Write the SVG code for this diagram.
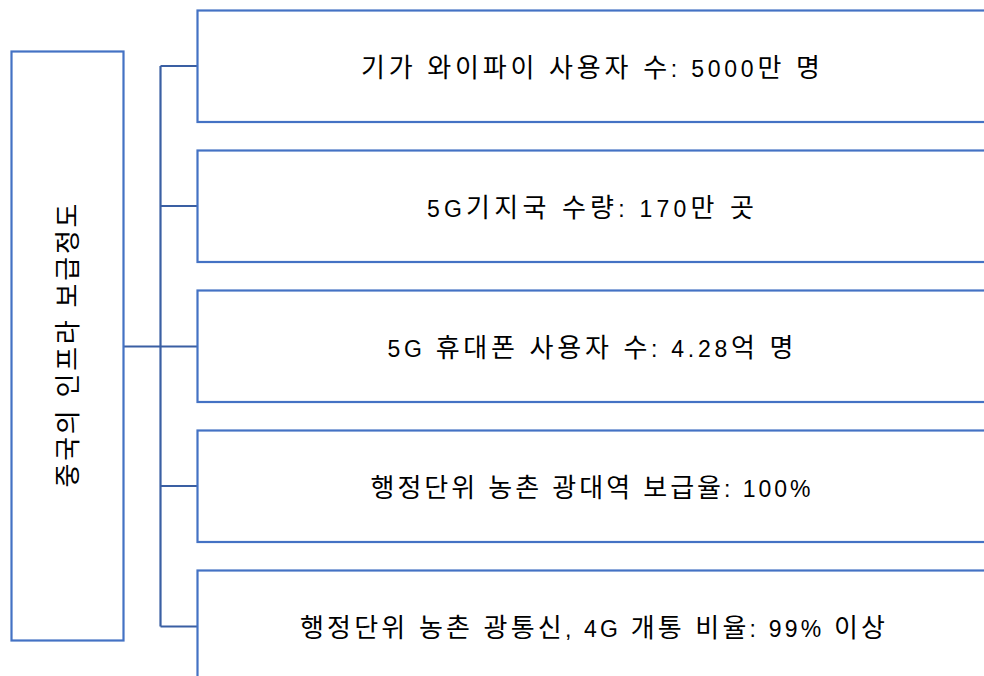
<svg xmlns="http://www.w3.org/2000/svg" width="984" height="676" viewBox="0 0 984 676">
<style>
.box{fill:#fff;stroke:#4472C4;stroke-width:2.2}
.con{fill:none;stroke:#3A5FA3;stroke-width:2.2}
.t{font-family:"Liberation Sans","Noto Sans CJK KR",sans-serif;font-size:23px;fill:#000;text-anchor:middle}
.k{font-size:26px}
</style>
<rect width="984" height="676" fill="#fff"/>
<g id="connectors">
<path class="con" d="M123.5 346.5H160.5M160.5 66H197.5M160.5 206H197.5M160.5 346.5H197.5M160.5 486H197.5M160.5 626.5H197.5M160.5 66V626.5"/>
</g>
<g id="root">
<rect class="box" x="11.5" y="51.5" width="112" height="589"/>
<text class="t k" transform="translate(77 345.5) rotate(-90)" textLength="284" lengthAdjust="spacing">중국의 인프라 보급정도</text>
</g>
<g id="n1">
<rect class="box" x="197.5" y="10.5" width="800" height="111.5"/>
<text class="t" x="590.5" y="76.5" textLength="459" lengthAdjust="spacing"><tspan class="k">기가 와이파이 사용자 수</tspan>: 5000<tspan class="k">만 명</tspan></text>
</g>
<g id="n2">
<rect class="box" x="197.5" y="150.5" width="800" height="111.5"/>
<text class="t" x="590.5" y="216.5" textLength="327" lengthAdjust="spacing">5G<tspan class="k">기지국 수량</tspan>: 170<tspan class="k">만 곳</tspan></text>
</g>
<g id="n3">
<rect class="box" x="197.5" y="290.5" width="800" height="111.5"/>
<text class="t" x="590.5" y="356.5" textLength="406" lengthAdjust="spacing">5G <tspan class="k">휴대폰 사용자 수</tspan>: 4.28<tspan class="k">억 명</tspan></text>
</g>
<g id="n4">
<rect class="box" x="197.5" y="430.5" width="800" height="111.5"/>
<text class="t" x="590.5" y="496.5" textLength="440" lengthAdjust="spacing"><tspan class="k">행정단위 농촌 광대역 보급율</tspan>: 100%</text>
</g>
<g id="n5">
<rect class="box" x="197.5" y="570.5" width="800" height="111.5"/>
<text class="t" x="592.5" y="636.5" textLength="585" lengthAdjust="spacing"><tspan class="k">행정단위 농촌 광통신</tspan>, 4G <tspan class="k">개통 비율</tspan>: 99% <tspan class="k">이상</tspan></text>
</g>
</svg>
